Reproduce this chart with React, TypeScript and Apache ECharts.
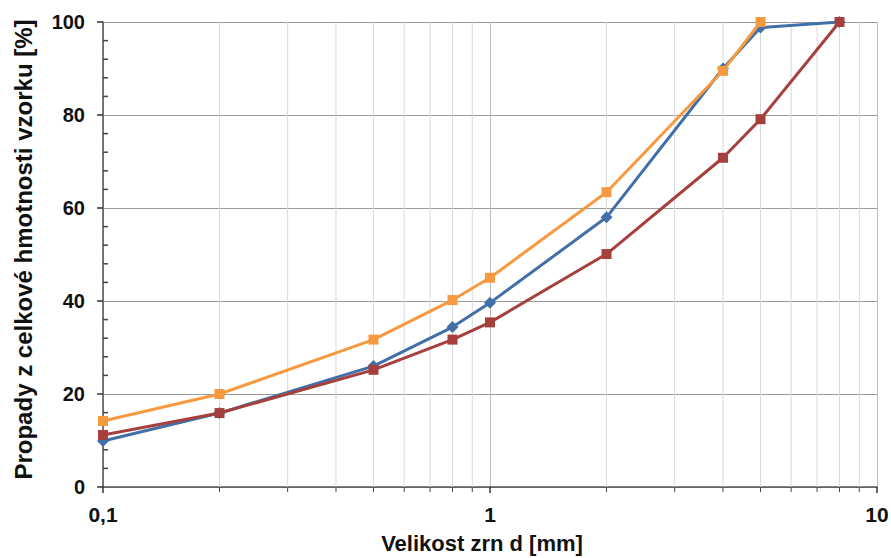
import React, { useEffect, useRef } from "react";
import * as echarts from "echarts";

const sizes = [0.1, 0.2, 0.5, 0.8, 1, 2, 4, 5, 8];
const blueValues = [9.9, 15.9, 26, 34.4, 39.6, 58, 90, 98.8, 100];
const orangeSizes = [0.1, 0.2, 0.5, 0.8, 1, 2, 4, 5];
const orangeValues = [14.2, 20, 31.7, 40.2, 45, 63.4, 89.5, 100];
const redValues = [11.2, 15.9, 25.2, 31.7, 35.4, 50.1, 70.8, 79.1, 100];
const xMinorTicks = [0.2, 0.3, 0.4, 0.5, 0.6, 0.7, 0.8, 0.9, 2, 3, 4, 5, 6, 7, 8, 9];
const yMinorTicks = [4, 8, 12, 16, 24, 28, 32, 36, 44, 48, 52, 56, 64, 68, 72, 76, 84, 88, 92, 96];

const xTitle = "Velikost zrn d [mm]";
const yTitle = "Propady z celkové hmotnosti vzorku [%]";

export default function App() {
  const ref = useRef<HTMLDivElement>(null);
  useEffect(() => {
    if (!ref.current) return;
    const chart = echarts.init(ref.current, undefined, { renderer: "svg" });
    const fontFamily = "'Liberation Sans', Arial, sans-serif";
    const option: any = {
      animation: false,
      backgroundColor: "#ffffff",
      grid: { left: 103, right: 14, top: 22, bottom: 71, containLabel: false, outerBoundsMode: "none" },
      xAxis: {
        type: "log",
        logBase: 10,
        min: 0.1,
        max: 10,
        name: xTitle,
        nameLocation: "middle",
        nameGap: 45,
        nameTextStyle: { fontFamily, fontWeight: "bold", fontSize: 22, color: "#111", padding: [0, 16, 0, 0] },
        axisLine: { show: true, lineStyle: { color: "#555", width: 1.5 } },
        axisTick: { show: true, length: 6, lineStyle: { color: "#333", width: 1.5 } },
        axisLabel: {
          margin: 17,
          fontFamily,
          fontWeight: "bold",
          fontSize: 21,
          color: "#111",
          formatter: (v: number) => String(v).replace(".", ","),
        },
        splitLine: { show: true, lineStyle: { color: "#bdbdbd", width: 1 } },
      },
      yAxis: {
        type: "value",
        min: 0,
        max: 100,
        interval: 20,
        name: yTitle,
        nameLocation: "middle",
        nameGap: 68,
        nameTextStyle: { fontFamily, fontWeight: "bold", fontSize: 24, color: "#111", padding: [0, 0, 0, 10] },
        axisLine: { show: true, lineStyle: { color: "#555", width: 1.5 } },
        axisTick: { show: true, length: 6, lineStyle: { color: "#333", width: 1.5 } },
        axisLabel: { margin: 18, fontFamily, fontWeight: "bold", fontSize: 20, color: "#111" },
        splitLine: { show: true, lineStyle: { color: "#9a9a9a", width: 1 } },
      },
      series: [
        {
          type: "custom",
          z: 1,
          silent: true,
          clip: false,
          data: xMinorTicks.map((v) => [v, 0]),
          encode: { x: 0, y: 1 },
          renderItem: (params: any, api: any) => {
            const x = api.value(0);
            const bot = api.coord([x, 0]);
            const top = api.coord([x, 100]);
            return {
              type: "group",
              children: [
                { type: "line", shape: { x1: bot[0], y1: top[1], x2: bot[0], y2: bot[1] }, style: { stroke: "#d9d9d9", lineWidth: 1 } },
                { type: "line", shape: { x1: bot[0], y1: bot[1], x2: bot[0], y2: bot[1] + 5 }, style: { stroke: "#444", lineWidth: 1 } },
              ],
            };
          },
        },
        {
          type: "custom",
          z: 1,
          silent: true,
          clip: false,
          data: yMinorTicks.map((v) => [0.1, v]),
          encode: { x: 0, y: 1 },
          renderItem: (params: any, api: any) => {
            const p = api.coord([0.1, api.value(1)]);
            return { type: "line", shape: { x1: p[0], y1: p[1], x2: p[0] + 5, y2: p[1] }, style: { stroke: "#444", lineWidth: 1.5 } };
          },
        },
        {
          type: "line",
          name: "blue",
          z: 3,
          data: sizes.map((x, i) => [x, blueValues[i]]),
          symbol: "diamond",
          symbolSize: 12,
          lineStyle: { color: "#4170a8", width: 3 },
          itemStyle: { color: "#4170a8" },
        },
        {
          type: "line",
          name: "red",
          z: 4,
          data: sizes.map((x, i) => [x, redValues[i]]),
          symbol: "rect",
          symbolSize: 10,
          lineStyle: { color: "#a5403d", width: 3 },
          itemStyle: { color: "#a5403d" },
        },
        {
          type: "line",
          name: "orange",
          z: 5,
          data: orangeSizes.map((x, i) => [x, orangeValues[i]]),
          symbol: "rect",
          symbolSize: 10,
          lineStyle: { color: "#f7993f", width: 3 },
          itemStyle: { color: "#f7993f" },
        },
      ],
    };
    chart.setOption(option);
    return () => chart.dispose();
  }, []);
  return <div ref={ref} style={{ position: "fixed", left: 0, top: 0, width: 891, height: 558 }} />;
}
